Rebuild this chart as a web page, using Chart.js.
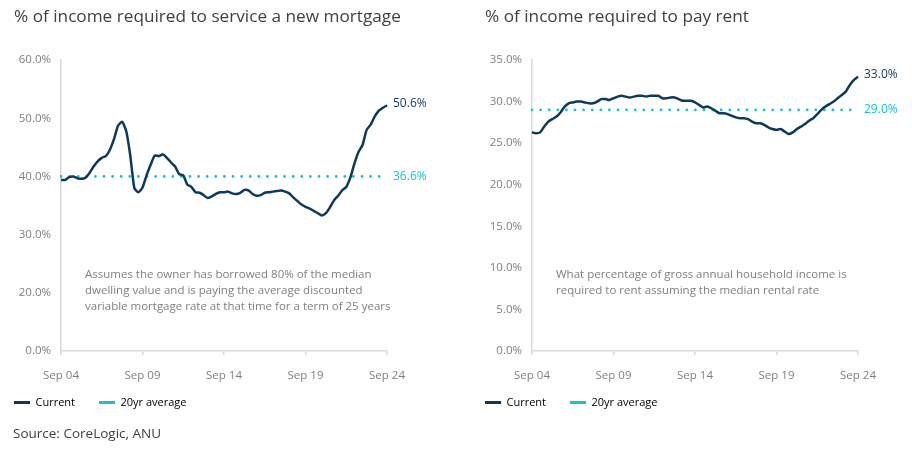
<!DOCTYPE html>
<html>
<head>
<meta charset="utf-8">
<script src="https://cdn.jsdelivr.net/npm/chart.js@4.4.0/dist/chart.umd.min.js"></script>
<style>
  body { margin: 0; background: #fff; width: 912px; height: 450px; overflow: hidden; position: relative; font-family: "Open Sans", sans-serif; }
  .box { position: absolute; top: 0; }
  .title { position: absolute; top: 4px; font-size: 17.2px; color: #404040; white-space: nowrap; }
  .source { position: absolute; left: 13px; top: 424px; font-size: 13.5px; color: #404040; }
</style>
</head>
<body>
<div class="box" style="left:-10px"><canvas id="mortgageChart" width="466" height="450"></canvas></div>
<div class="box" style="left:461px"><canvas id="rentChart" width="451" height="450"></canvas></div>
<div class="title" style="left:14px">% of income required to service a new mortgage</div>
<div class="title" style="left:485px">% of income required to pay rent</div>
<div class="source">Source: CoreLogic, ANU</div>

<script>
// quarterly, Sep 04 .. Sep 24
const quarterMonths = ["Mar", "Jun", "Sep", "Dec"];
const quarters = [];
for (let i = 0; i < 81; i++) {
  const q = (2 + i) % 4;
  const yr = 4 + Math.floor((2 + i) / 4);
  quarters.push(`${quarterMonths[q]} ${String(yr).padStart(2, "0")}`);
}
const xTickLabels = ["Sep 04", "Sep 09", "Sep 14", "Sep 19", "Sep 24"];

// mortgage chart (values read against the printed axis labels)
const mortgageCurrent = [
  39.4, 39.4, 39.9, 40.0, 39.7, 39.6, 39.8, 40.6, 41.7, 42.6,
  43.2, 43.5, 44.6, 46.4, 48.7, 49.4, 47.8, 43.6, 38.0, 37.3,
  38.1, 40.2, 42.0, 43.6, 43.5, 43.8, 43.2, 42.4, 41.7, 40.4,
  40.2, 38.6, 38.2, 37.3, 37.2, 36.8, 36.3, 36.6, 37.0, 37.3,
  37.3, 37.4, 37.1, 37.0, 37.2, 37.7, 37.6, 37.0, 36.7, 36.8,
  37.2, 37.3, 37.4, 37.5, 37.6, 37.4, 37.1, 36.4, 35.8, 35.2,
  34.8, 34.5, 34.1, 33.7, 33.3, 33.7, 34.7, 35.9, 36.7, 37.6,
  38.2, 39.8, 42.2, 44.2, 45.4, 48.0, 48.9, 50.3, 51.3, 51.8,
  52.2
];
const mortgageAverage = 40.0;
const mortgageEndLabels = ["50.6%", "36.6%"];
const mortgageYTicks = ["0.0%", "20.0%", "30.0%", "40.0%", "50.0%", "60.0%"];
const mortgageNote = [
  "Assumes the owner has borrowed 80% of the median",
  "dwelling value and is paying the average discounted",
  "variable mortgage rate at that time for a term of 25 years"
];

// rent chart
const rentCurrent = [
  26.3, 26.2, 26.3, 27.0, 27.6, 27.9, 28.2, 28.7, 29.4, 29.8,
  29.9, 30.0, 30.0, 29.9, 29.8, 29.8, 30.0, 30.3, 30.3, 30.2,
  30.4, 30.6, 30.7, 30.6, 30.5, 30.6, 30.7, 30.7, 30.6, 30.7,
  30.7, 30.7, 30.4, 30.4, 30.5, 30.5, 30.3, 30.1, 30.1, 30.1,
  29.9, 29.6, 29.3, 29.4, 29.2, 28.9, 28.6, 28.6, 28.5, 28.3,
  28.1, 28.0, 28.0, 27.9, 27.6, 27.4, 27.4, 27.2, 26.9, 26.7,
  26.6, 26.7, 26.4, 26.1, 26.3, 26.7, 27.0, 27.3, 27.7, 28.0,
  28.5, 29.0, 29.4, 29.7, 30.0, 30.4, 30.8, 31.2, 32.0, 32.6,
  33.0
];
const rentAverage = 29.0;
const rentEndLabels = ["33.0%", "29.0%"];
const rentYTicks = ["0.0%", "5.0%", "10.0%", "15.0%", "20.0%", "25.0%", "30.0%", "35.0%"];
const rentNote = [
  "What percentage of gross annual household income is",
  "required to rent assuming the median rental rate"
];

const seriesNames = ["Current", "20yr average"];

const NAVY = "#0d3a5c";
const CYAN = "#18c1d6";
const AXIS = "#d9d9d9";
const GREY = "#7f7f7f";
const FONT = "'Open Sans', sans-serif";

// value tag after the last point of each line, plus the note text
const annotate = {
  id: "annotate",
  afterLayout(chart) {
    // pull the legend row up closer to the axis labels
    chart.legend.top -= 24;
    chart.legend.bottom -= 24;
  },
  afterDatasetsDraw(chart, args, opts) {
    const c = chart.ctx;
    const area = chart.chartArea;
    c.save();
    c.font = `12px ${FONT}`;
    c.textBaseline = "middle";
    c.textAlign = "left";
    opts.endLabels.forEach((txt, i) => {
      const pts = chart.getDatasetMeta(i).data;
      const p = pts[pts.length - 1];
      c.fillStyle = i === 0 ? NAVY : CYAN;
      c.fillText(txt, p.x + 6, p.y - (i === 0 ? 2 : 0));
    });
    c.font = `11.5px ${FONT}`;
    c.fillStyle = GREY;
    opts.note.forEach((line, i) => {
      c.fillText(line, area.left + 24, area.top + 215 + i * 16);
    });
    c.restore();
  }
};

function makeChart(id, current, avg, yMin, yMax, step, yTicks, endLabels, note, padRight) {
  return new Chart(document.getElementById(id), {
    type: "line",
    data: {
      labels: quarters,
      datasets: [
        {
          label: seriesNames[0],
          data: current,
          borderColor: NAVY,
          borderWidth: 2.5,
          pointRadius: 0,
          tension: 0.2
        },
        {
          label: seriesNames[1],
          data: [{ x: quarters[0], y: avg }, { x: quarters[quarters.length - 1], y: avg }],
          borderColor: CYAN,
          borderWidth: 2.8,
          borderDash: [0, 8.6],
          borderCapStyle: "round",
          pointRadius: 0
        }
      ]
    },
    options: {
      responsive: false,
      animation: false,
      layout: { padding: { left: 0, right: padRight, top: 60, bottom: 8 } },
      scales: {
        x: {
          grid: { drawOnChartArea: false, color: AXIS, tickLength: 4, lineWidth: 1.5 },
          border: { color: AXIS, width: 1.5 },
          afterBuildTicks: s => { s.ticks = s.ticks.filter(t => xTickLabels.includes(quarters[t.value])); },
          ticks: { autoSkip: false, maxRotation: 0, padding: 14, color: GREY, font: { family: FONT, size: 11.5 } }
        },
        y: {
          min: yMin,
          max: yMax,
          grid: { display: false, drawTicks: false },
          border: { color: AXIS, width: 1.5 },
          afterFit: s => { s.width = 71; },
          ticks: {
            stepSize: step,
            padding: 10,
            color: GREY,
            font: { family: FONT, size: 11.5 },
            callback: (v, i) => yTicks[i]
          }
        }
      },
      plugins: {
        tooltip: { enabled: false },
        legend: {
          position: "bottom",
          align: "start",
          labels: {
            boxWidth: 16,
            boxHeight: 3,
            padding: 24,
            color: GREY,
            font: { family: FONT, size: 11 },
            generateLabels: () => [
              { text: seriesNames[0], fillStyle: NAVY, strokeStyle: NAVY, lineWidth: 0, hidden: false, datasetIndex: 0 },
              { text: seriesNames[1], fillStyle: CYAN, strokeStyle: CYAN, lineWidth: 0, hidden: false, datasetIndex: 1 }
            ]
          }
        },
        annotate: { endLabels, note }
      }
    },
    plugins: [annotate]
  });
}

makeChart("mortgageChart", mortgageCurrent, mortgageAverage, 10, 60, 10, mortgageYTicks, mortgageEndLabels, mortgageNote, 69);
makeChart("rentChart", rentCurrent, rentAverage, 0, 35, 5, rentYTicks, rentEndLabels, rentNote, 54);
</script>
</body>
</html>
